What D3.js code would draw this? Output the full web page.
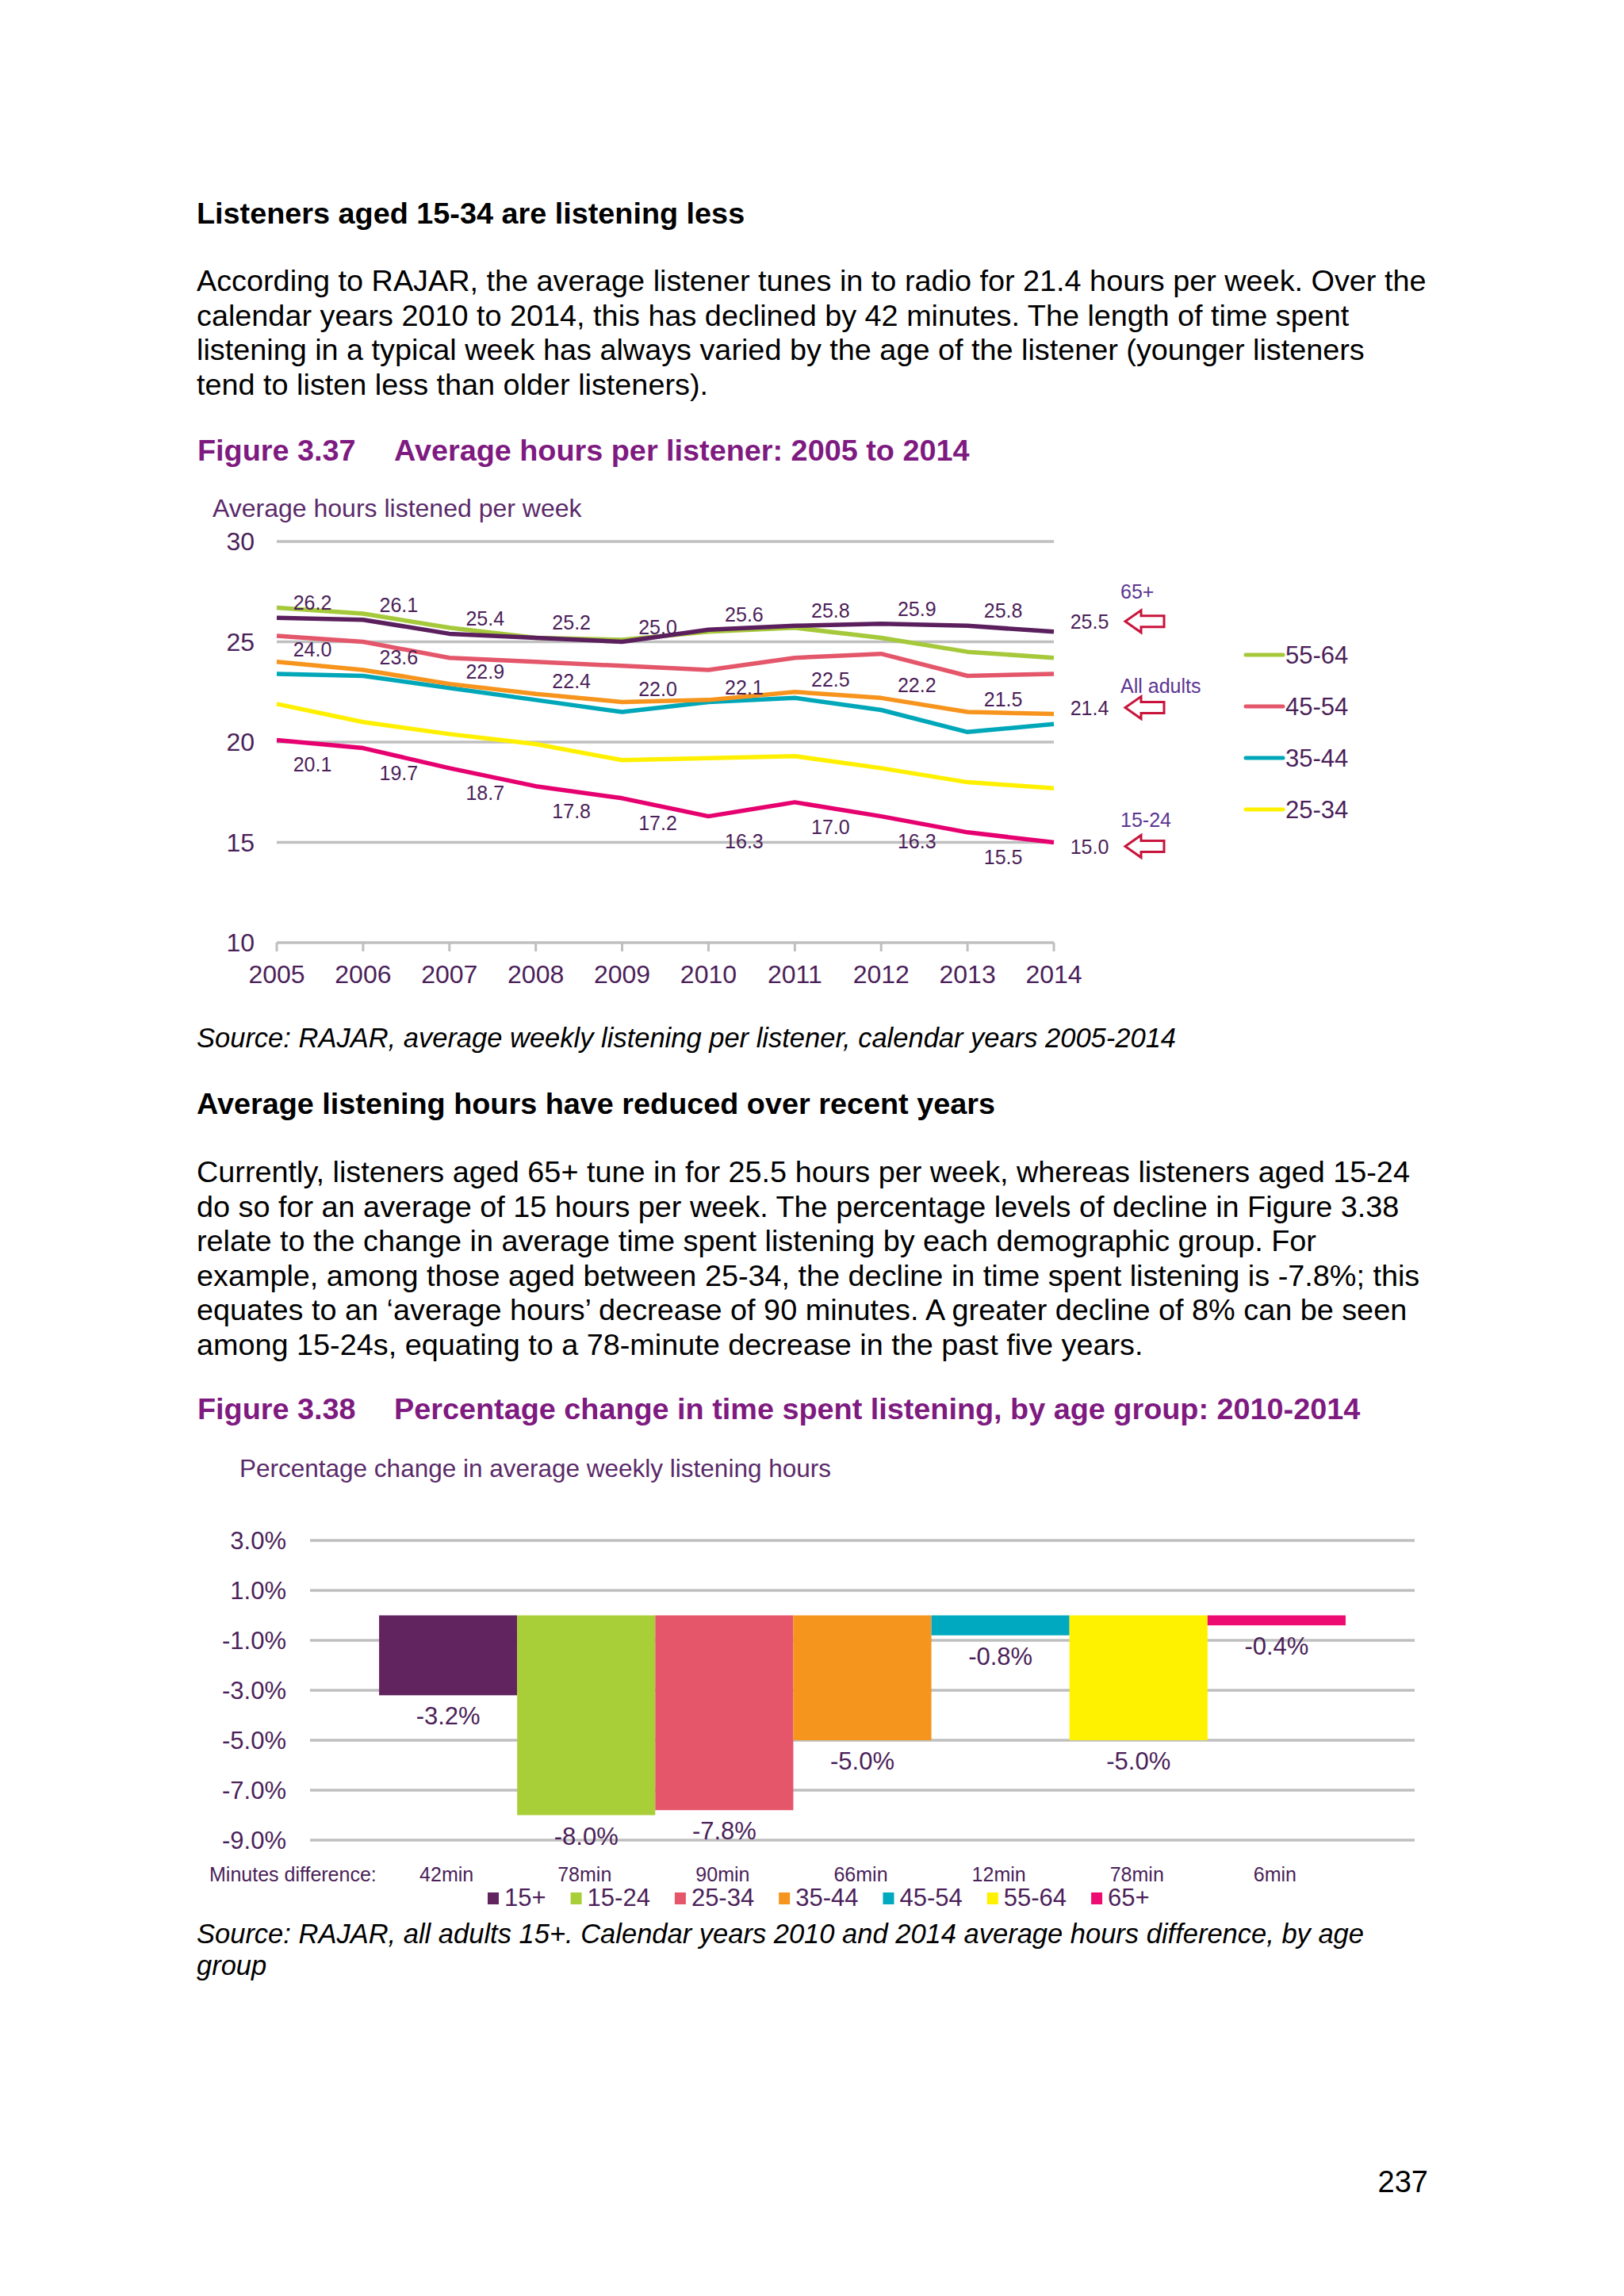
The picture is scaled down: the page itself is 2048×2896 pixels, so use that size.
<!DOCTYPE html>
<html>
<head>
<meta charset="utf-8">
<title>Average hours per listener</title>
<script src="https://d3js.org/d3.v7.min.js"></script>
<style>
  html, body {
    margin: 0px;
    background: #fff;
  }
  svg text { font-family: "Liberation Sans", Arial, sans-serif; }
</style>
</head>
<body>
<svg id="page" width="2048" height="2896"></svg>
<script>

// figure 3.37 data
var years = [2005, 2006, 2007, 2008, 2009, 2010, 2011, 2012, 2013, 2014];
var hours65 = [26.2, 26.1, 25.4, 25.2, 25.0, 25.6, 25.8, 25.9, 25.8, 25.5];
var hours5564 = [26.7, 26.4, 25.7, 25.2, 25.1, 25.5, 25.7, 25.2, 24.5, 24.2];
var hours4554 = [25.3, 25.0, 24.2, 24.0, 23.8, 23.6, 24.2, 24.4, 23.3, 23.4];
var hoursAll = [24.0, 23.6, 22.9, 22.4, 22.0, 22.1, 22.5, 22.2, 21.5, 21.4];
var hours3544 = [23.4, 23.3, 22.7, 22.1, 21.5, 22.0, 22.2, 21.6, 20.5, 20.9];
var hours2534 = [21.9, 21.0, 20.4, 19.9, 19.1, 19.2, 19.3, 18.7, 18.0, 17.7];
var hours1524 = [20.1, 19.7, 18.7, 17.8, 17.2, 16.3, 17.0, 16.3, 15.5, 15.0];
var hourTicks = [10, 15, 20, 25, 30];
var legendGroups = ["55-64", "45-54", "35-44", "25-34"];

// figure 3.38 data
var ageGroups = ["15+", "15-24", "25-34", "35-44", "45-54", "55-64", "65+"];
var pctChange = [-3.2, -8.0, -7.8, -5.0, -0.8, -5.0, -0.4];
var minutesDiff = ["42min", "78min", "90min", "66min", "12min", "78min", "6min"];
var pctTicks = [3, 1, -1, -3, -5, -7, -9];

var purple = "#7e1a80", ink = "#4b1f59", grid = "#bfbfbf";

var svg = d3.select("#page");

function para(lines, x, y0, lh, size, weight, style, fill) {
	svg.append("g").selectAll("text").data(lines).enter()
		.append("text")
		.attr("x", x)
		.attr("y", function(d, i){ return y0 + i * lh })
		.style("font-size", size + "px")
		.style("font-weight", weight)
		.style("font-style", style)
		.style("fill", fill)
		.text(function(d){ return d });
}

function pct(d) { return d.toFixed(1) + "%" }

// page text
para(["Listeners aged 15-34 are listening less"], 248, 282, 0, 37.8, "bold", "normal", "#000");
para([
	"According to RAJAR, the average listener tunes in to radio for 21.4 hours per week. Over the",
	"calendar years 2010 to 2014, this has declined by 42 minutes. The length of time spent",
	"listening in a typical week has always varied by the age of the listener (younger listeners",
	"tend to listen less than older listeners)."
], 248, 367, 43.5, 37.8, "normal", "normal", "#000");
para(["Figure 3.37"], 249, 581, 0, 37.8, "bold", "normal", purple);
para(["Average hours per listener: 2005 to 2014"], 497, 581, 0, 37.8, "bold", "normal", purple);

para(["Source: RAJAR, average weekly listening per listener, calendar years 2005-2014"], 248, 1321, 0, 34.5, "normal", "italic", "#000");
para(["Average listening hours have reduced over recent years"], 248, 1405, 0, 37.8, "bold", "normal", "#000");
para([
	"Currently, listeners aged 65+ tune in for 25.5 hours per week, whereas listeners aged 15-24",
	"do so for an average of 15 hours per week. The percentage levels of decline in Figure 3.38",
	"relate to the change in average time spent listening by each demographic group. For",
	"example, among those aged between 25-34, the decline in time spent listening is -7.8%; this",
	"equates to an \u2018average hours\u2019 decrease of 90 minutes. A greater decline of 8% can be seen",
	"among 15-24s, equating to a 78-minute decrease in the past five years."
], 248, 1491, 43.5, 37.8, "normal", "normal", "#000");
para(["Figure 3.38"], 249, 1790, 0, 37.8, "bold", "normal", purple);
para(["Percentage change in time spent listening, by age group: 2010-2014"], 497, 1790, 0, 37.8, "bold", "normal", purple);

para(["Source: RAJAR, all adults 15+. Calendar years 2010 and 2014 average hours difference, by age",
	"group"], 248, 2451, 40, 34.5, "normal", "italic", "#000");

svg.append("text").attr("x", 1801).attr("y", 2765)
	.attr("text-anchor", "end").style("font-size", "38px").text("237");

// ---------- figure 3.37 line chart ----------
var x = d3.scalePoint().domain(years).range([349, 1329]);
var y = d3.scaleLinear().domain([10, 30]).range([1189, 683]);

var c1 = svg.append("g");

c1.append("text").attr("x", 268).attr("y", 652)
	.style("font-size", "32px").style("fill", "#5a2a6a")
	.text("Average hours listened per week");

c1.selectAll("line.grid").data(hourTicks).enter()
	.append("line").attr("class", "grid")
	.attr("x1", x(2005)).attr("x2", x(2014))
	.attr("y1", function(d){ return y(d) }).attr("y2", function(d){ return y(d) })
	.style("stroke", grid).style("stroke-width", 3.5);

c1.selectAll("text.ytick").data(hourTicks).enter()
	.append("text").attr("class", "ytick")
	.attr("x", 321).attr("y", function(d){ return y(d) + 11 })
	.attr("text-anchor", "end")
	.style("font-size", "32px").style("fill", ink)
	.text(function(d){ return d });

c1.selectAll("line.xtick").data(years).enter()
	.append("line").attr("class", "xtick")
	.attr("x1", function(d){ return x(d) }).attr("x2", function(d){ return x(d) })
	.attr("y1", y(10)).attr("y2", y(10) + 11)
	.style("stroke", grid).style("stroke-width", 3);

c1.selectAll("text.xtick").data(years).enter()
	.append("text").attr("class", "xtick")
	.attr("x", function(d){ return x(d) }).attr("y", 1240)
	.attr("text-anchor", "middle")
	.style("font-size", "32px").style("fill", ink)
	.text(function(d){ return d });

// dy: value labels, endDy: last value, nameDy: callout name (offsets from the point)
var series = [
	{ name: "55-64", values: hours5564, color: "#a5c93a" },
	{ name: "45-54", values: hours4554, color: "#e4566a" },
	{ name: "35-44", values: hours3544, color: "#00a7b9" },
	{ name: "25-34", values: hours2534, color: "#fff000" },
	{ name: "All adults", values: hoursAll, color: "#f7941d", dy: -7, endDy: 1, nameDy: -27 },
	{ name: "15-24", values: hours1524, color: "#e6006f", dy: 40, endDy: 14, nameDy: -20 },
	{ name: "65+", values: hours65, color: "#5b1f5e", dy: -10, endDy: -4, nameDy: -42 }
];

var line = d3.line()
	.x(function(d, i){ return x(years[i]) })
	.y(function(d){ return y(d) });

c1.selectAll("path.series").data(series).enter()
	.append("path").attr("class", "series")
	.attr("d", function(d){ return line(d.values) })
	.style("fill", "none")
	.style("stroke", function(d){ return d.color })
	.style("stroke-width", 5.5)
	.style("stroke-linejoin", "round");

// value labels, end value, arrow and name for the three labelled series
series.filter(function(s){ return s.dy !== undefined }).forEach(function(s) {
	var n = s.values.length - 1;
	c1.append("g").selectAll("text").data(s.values).enter()
		.append("text")
		.attr("x", function(d, i){ return x(years[i]) + 45 })
		.attr("y", function(d, i){ return y(d) + (i == n ? s.endDy : s.dy) })
		.attr("text-anchor", "middle")
		.style("font-size", "25px").style("fill", ink)
		.text(function(d){ return d.toFixed(1) });

	var last = s.values[n];
	var ay = y(last) + s.endDy - 9;
	var ax = x(2014) + 90;
	c1.append("path")
		.attr("d", "M" + ax + "," + ay +
			" l20,-14 l0,7 l29,0 l0,14 l-29,0 l0,7 z")
		.style("fill", "#fff").style("stroke", "#c8143c")
		.style("stroke-width", 3).style("stroke-linejoin", "miter");

	c1.append("text")
		.attr("x", x(2014) + 84).attr("y", y(last) + s.nameDy)
		.style("font-size", "25px").style("fill", "#5b3592")
		.text(s.name);
});

var leg1 = c1.selectAll("g.leg").data(legendGroups).enter()
	.append("g").attr("class", "leg")
	.attr("transform", function(d, i){ return "translate(1571," + (826 + i * 65) + ")" });
leg1.append("line")
	.attr("x1", 0).attr("x2", 47).attr("y1", 0).attr("y2", 0)
	.style("stroke", function(d){ return series.find(function(s){ return s.name == d }).color })
	.style("stroke-width", 5).style("stroke-linecap", "round");
leg1.append("text")
	.attr("x", 50).attr("y", 11)
	.style("font-size", "31px").style("fill", ink)
	.text(function(d){ return d });

// ---------- figure 3.38 bar chart ----------
var xb = d3.scaleBand().domain(ageGroups).range([391, 1784])
	.paddingInner(0).paddingOuter(0.5);
var yb = d3.scaleLinear().domain([-9, 3]).range([2321, 1943]);
var barColors = ["#62245f", "#a9cf38", "#e6566a", "#f5951e", "#00a9c0", "#fff200", "#ec0c72"];

var c2 = svg.append("g");

c2.append("text").attr("x", 302).attr("y", 1863)
	.style("font-size", "31.5px").style("fill", "#5a2a6a")
	.text("Percentage change in average weekly listening hours");

c2.selectAll("line.grid").data(pctTicks).enter()
	.append("line").attr("class", "grid")
	.attr("x1", 391).attr("x2", 1784)
	.attr("y1", function(d){ return yb(d) }).attr("y2", function(d){ return yb(d) })
	.style("stroke", grid).style("stroke-width", 3.5);

c2.selectAll("text.ytick").data(pctTicks).enter()
	.append("text").attr("class", "ytick")
	.attr("x", 361).attr("y", function(d){ return yb(d) + 11 })
	.attr("text-anchor", "end")
	.style("font-size", "31px").style("fill", ink)
	.text(pct);

c2.selectAll("rect.bar").data(pctChange).enter()
	.append("rect").attr("class", "bar")
	.attr("x", function(d, i){ return xb(ageGroups[i]) })
	.attr("width", xb.bandwidth())
	.attr("y", yb(0))
	.attr("height", function(d){ return yb(d) - yb(0) })
	.style("fill", function(d, i){ return barColors[i] });

c2.selectAll("text.val").data(pctChange).enter()
	.append("text").attr("class", "val")
	.attr("x", function(d, i){ return xb(ageGroups[i]) + xb.bandwidth() / 2 })
	.attr("y", function(d){ return yb(d) + 37 })
	.attr("text-anchor", "middle")
	.style("font-size", "31px").style("fill", ink)
	.text(pct);

c2.append("text").attr("x", 264).attr("y", 2373)
	.style("font-size", "25px").style("fill", ink)
	.text("Minutes difference:");

c2.selectAll("text.mins").data(minutesDiff).enter()
	.append("text").attr("class", "mins")
	.attr("x", function(d, i){ return xb(ageGroups[i]) + xb.bandwidth() / 2 - 2 })
	.attr("y", 2373)
	.attr("text-anchor", "middle")
	.style("font-size", "25px").style("fill", ink)
	.text(function(d){ return d });

// legend laid out left to right from measured text widths
var lx = 615;
ageGroups.forEach(function(g, i) {
	c2.append("rect").attr("x", lx).attr("y", 2387).attr("width", 14).attr("height", 15)
		.style("fill", barColors[i]);
	var t = c2.append("text").attr("x", lx + 21).attr("y", 2404)
		.style("font-size", "31px").style("fill", ink)
		.text(g);
	lx += 21 + t.node().getComputedTextLength() + 31;
});

</script>
</body>
</html>
